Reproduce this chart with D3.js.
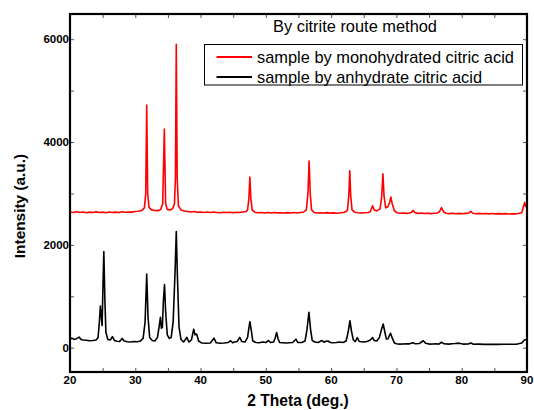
<!DOCTYPE html>
<html>
<head>
<meta charset="utf-8">
<script src="https://cdn.jsdelivr.net/npm/d3@7"></script>
<style>
  body { margin: 0; background: #fff; }
  svg { font-family: "Liberation Sans", Arial, sans-serif; }
</style>
</head>
<body>
<div id="chart"></div>
<script>
(function (d3) {

    // 2 theta (deg.), intensity (a.u.)
    var monoPattern = [
        [20.0, 2640], [20.5, 2630], [21.0, 2645], [21.5, 2628], [22.0, 2640], [22.5, 2625],
        [23.0, 2636], [23.5, 2628], [24.0, 2642], [24.5, 2630], [25.0, 2636], [25.5, 2624],
        [26.0, 2640], [26.5, 2630], [27.0, 2636], [27.5, 2628], [28.0, 2645], [28.5, 2634],
        [29.0, 2640], [29.5, 2636], [30.0, 2650], [30.5, 2655], [31.0, 2670], [31.4, 2720],
        [31.6, 3000], [31.75, 4720], [31.9, 3000], [32.1, 2730], [32.5, 2680], [33.0, 2668],
        [33.5, 2665], [33.9, 2690], [34.2, 2800], [34.45, 4250], [34.65, 2800], [34.9, 2690],
        [35.3, 2680], [35.7, 2700], [36.0, 2800], [36.15, 3300], [36.28, 5900], [36.42, 3300],
        [36.6, 2760], [37.0, 2680], [37.5, 2660], [38.0, 2650], [38.5, 2640], [39.0, 2648],
        [39.5, 2635], [40.0, 2640], [40.5, 2630], [41.0, 2638], [41.5, 2628], [42.0, 2640],
        [42.5, 2630], [43.0, 2625], [43.5, 2635], [44.0, 2628], [44.5, 2632], [45.0, 2625],
        [45.5, 2635], [46.0, 2630], [46.5, 2640], [47.0, 2650], [47.2, 2680], [47.4, 2900],
        [47.55, 3320], [47.7, 2900], [47.9, 2680], [48.3, 2635], [48.8, 2625], [49.3, 2630],
        [49.8, 2620], [50.3, 2628], [50.8, 2620], [51.3, 2630], [51.8, 2622], [52.3, 2625],
        [52.8, 2618], [53.3, 2626], [53.8, 2620], [54.3, 2628], [54.8, 2620], [55.3, 2630],
        [55.8, 2640], [56.2, 2680], [56.45, 3000], [56.62, 3630], [56.8, 3000], [57.0, 2680],
        [57.4, 2630], [57.9, 2620], [58.4, 2625], [58.9, 2618], [59.4, 2626], [59.9, 2618],
        [60.4, 2622], [60.9, 2616], [61.4, 2624], [61.9, 2630], [62.3, 2650], [62.5, 2680],
        [62.7, 2950], [62.85, 3440], [63.0, 2950], [63.2, 2680], [63.6, 2635], [64.1, 2625],
        [64.6, 2620], [65.1, 2625], [65.6, 2630], [66.0, 2645], [66.35, 2760], [66.6, 2680],
        [67.0, 2660], [67.5, 2700], [67.75, 2950], [67.93, 3380], [68.1, 2950], [68.35, 2720],
        [68.7, 2740], [68.95, 2820], [69.15, 2930], [69.35, 2800], [69.7, 2660], [70.1, 2625],
        [70.6, 2615], [71.1, 2620], [71.6, 2612], [72.0, 2620], [72.3, 2632], [72.57, 2670],
        [72.8, 2628], [73.3, 2612], [73.8, 2618], [74.3, 2610], [74.8, 2616], [75.3, 2608],
        [75.8, 2615], [76.3, 2620], [76.6, 2645], [76.9, 2725], [77.2, 2645], [77.6, 2615],
        [78.1, 2608], [78.6, 2615], [79.1, 2606], [79.6, 2612], [80.1, 2605], [80.6, 2612],
        [81.1, 2620], [81.4, 2652], [81.7, 2615], [82.2, 2606], [82.7, 2612], [83.2, 2604],
        [83.7, 2610], [84.2, 2603], [84.7, 2610], [85.2, 2602], [85.7, 2608], [86.2, 2602],
        [86.7, 2608], [87.2, 2600], [87.7, 2606], [88.2, 2602], [88.7, 2610], [89.2, 2625],
        [89.45, 2740], [89.65, 2825], [89.8, 2750], [90.0, 2720]
    ];

    var anhydPattern = [
        [20.0, 170], [20.3, 185], [20.6, 160], [21.0, 175], [21.4, 205], [21.7, 160],
        [22.0, 150], [22.5, 145], [23.0, 135], [23.5, 140], [24.0, 150], [24.3, 200],
        [24.5, 500], [24.65, 810], [24.8, 600], [24.92, 430], [25.05, 1200], [25.18, 1870],
        [25.35, 900], [25.5, 300], [25.8, 160], [26.2, 150], [26.5, 215], [26.8, 140],
        [27.2, 125], [27.6, 120], [28.0, 180], [28.3, 130], [28.8, 115], [29.3, 110],
        [29.8, 120], [30.3, 115], [30.8, 130], [31.2, 180], [31.5, 500], [31.75, 1430],
        [31.95, 600], [32.2, 200], [32.6, 140], [33.0, 130], [33.4, 200], [33.7, 450],
        [33.85, 590], [34.0, 380], [34.15, 400], [34.3, 900], [34.48, 1230], [34.65, 700],
        [34.9, 250], [35.2, 180], [35.5, 200], [35.8, 500], [36.1, 1500], [36.28, 2260],
        [36.45, 1400], [36.7, 400], [37.0, 160], [37.4, 110], [37.9, 200], [38.2, 110],
        [38.6, 150], [38.95, 360], [39.15, 250], [39.4, 265], [39.7, 130], [40.2, 90],
        [40.8, 85], [41.5, 90], [42.05, 185], [42.4, 95], [43.0, 85], [43.6, 90],
        [44.2, 100], [44.6, 135], [44.9, 95], [45.2, 110], [45.6, 120], [46.0, 200],
        [46.3, 120], [46.8, 110], [47.2, 200], [47.4, 380], [47.56, 505], [47.75, 350],
        [48.0, 130], [48.5, 100], [49.0, 95], [49.5, 110], [50.0, 100], [50.4, 140],
        [50.7, 100], [51.2, 110], [51.45, 200], [51.65, 295], [51.85, 180], [52.1, 100],
        [52.6, 95], [53.1, 90], [53.6, 95], [54.1, 100], [54.6, 165], [54.9, 100],
        [55.5, 100], [56.0, 130], [56.3, 350], [56.6, 690], [56.85, 350], [57.1, 140],
        [57.5, 110], [58.0, 100], [58.3, 120], [58.6, 140], [58.9, 105], [59.2, 125],
        [59.5, 130], [59.9, 100], [60.3, 95], [60.8, 100], [61.3, 110], [61.8, 100],
        [62.3, 130], [62.6, 300], [62.88, 525], [63.1, 330], [63.4, 150], [63.7, 120],
        [64.0, 195], [64.3, 120], [64.7, 115], [65.0, 110], [65.5, 120], [66.0, 150],
        [66.35, 195], [66.6, 140], [67.0, 130], [67.4, 200], [67.7, 350], [67.97, 460],
        [68.2, 320], [68.45, 170], [68.7, 170], [68.9, 230], [69.1, 280], [69.35, 190],
        [69.7, 90], [70.0, 75], [70.5, 70], [71.0, 72], [71.5, 75], [72.0, 75],
        [72.5, 97], [72.9, 75], [73.5, 80], [74.1, 135], [74.5, 85], [75.0, 70],
        [75.5, 72], [76.0, 75], [76.5, 70], [76.9, 105], [77.3, 75], [78.0, 70],
        [78.5, 75], [79.0, 80], [79.6, 88], [80.2, 70], [81.0, 72], [81.4, 90],
        [81.8, 68], [82.5, 70], [83.5, 65], [84.5, 68], [85.5, 65], [86.5, 68],
        [87.5, 66], [88.5, 70], [89.2, 90], [89.6, 150], [90.0, 160]
    ];

    var seriesNames = ['sample by monohydrated citric acid', 'sample by anhydrate citric acid'];
    var seriesColors = ['#ff0000', '#000000'];
    var chartTitle = 'By citrite route method';

    var xTicks = [20, 30, 40, 50, 60, 70, 80, 90];
    var xMinor = [25, 35, 45, 55, 65, 75, 85];
    var yTicks = [0, 2000, 4000, 6000];
    var yMinor = [1000, 3000, 5000];

    var W = 534, H = 410;
    var margin = { left: 70, top: 14, right: 7, bottom: 38 };
    var width = W - margin.left - margin.right,
        height = H - margin.top - margin.bottom;

    var xScale = d3.scaleLinear().domain([20, 90]).range([0, width]);
    var yScale = d3.scaleLinear().domain([-473, 6490]).range([height, 0]);

    var svg = d3.select('#chart')
        .append('svg')
        .attr('width', W)
        .attr('height', H);

    var g = svg.append('g')
        .attr('transform', 'translate(' + margin.left + ',' + margin.top + ')');

    g.append('clipPath')
        .attr('id', 'plot-clip')
        .append('rect')
        .attr('width', width)
        .attr('height', height);

    // inward ticks on all four sides
    function tickAxis(axis, values, size) {
        return axis.tickValues(values).tickSizeInner(-size).tickSizeOuter(0).tickFormat('');
    }

    var bottom = g.append('g').attr('transform', 'translate(0,' + height + ')');
    bottom.call(tickAxis(d3.axisBottom(xScale), xTicks.concat(xMinor), 4));
    var top = g.append('g');
    top.call(tickAxis(d3.axisTop(xScale), xTicks.concat(xMinor), 4));
    var left = g.append('g');
    left.call(tickAxis(d3.axisLeft(yScale), yTicks.concat(yMinor), 4));
    var right = g.append('g').attr('transform', 'translate(' + width + ',0)');
    right.call(tickAxis(d3.axisRight(yScale), yTicks.concat(yMinor), 4));

    g.selectAll('.domain').remove();
    g.selectAll('.tick line').attr('stroke', '#555').attr('stroke-width', 1);

    // tick labels
    g.selectAll('.xlab')
        .data(xTicks)
        .enter().append('text')
        .attr('x', function (d) { return xScale(d); })
        .attr('y', height + 12)
        .attr('text-anchor', 'middle')
        .attr('font-size', 11.5)
        .attr('font-weight', 'bold')
        .text(function (d) { return d; });

    g.selectAll('.ylab')
        .data(yTicks)
        .enter().append('text')
        .attr('x', -1)
        .attr('y', function (d) { return yScale(d) + 4; })
        .attr('text-anchor', 'end')
        .attr('font-size', 11.5)
        .attr('font-weight', 'bold')
        .text(function (d) { return d; });

    var line = d3.line()
        .x(function (d) { return xScale(d[0]); })
        .y(function (d) { return yScale(d[1]); });

    var curves = g.append('g').attr('clip-path', 'url(#plot-clip)');
    [monoPattern, anhydPattern].forEach(function (data, i) {
        curves.append('path')
            .attr('d', line(data))
            .attr('fill', 'none')
            .attr('stroke', seriesColors[i])
            .attr('stroke-width', 1.6)
            .attr('stroke-linejoin', 'round');
    });

    // frame
    g.append('rect')
        .attr('width', width)
        .attr('height', height)
        .attr('fill', 'none')
        .attr('stroke', '#000')
        .attr('stroke-width', 2.2);

    // title inside the plot
    svg.append('text')
        .attr('x', 273)
        .attr('y', 32)
        .attr('font-size', 16.4)
        .text(chartTitle);

    // legend
    var legend = svg.append('g');
    legend.append('rect')
        .attr('x', 204.5)
        .attr('y', 44.5)
        .attr('width', 318)
        .attr('height', 40.5)
        .attr('fill', '#fff')
        .attr('stroke', '#000')
        .attr('stroke-width', 1);

    seriesNames.forEach(function (name, i) {
        var y = 57 + i * 20;
        legend.append('line')
            .attr('x1', 216.5)
            .attr('x2', 252)
            .attr('y1', y)
            .attr('y2', y)
            .attr('stroke', seriesColors[i])
            .attr('stroke-width', 1.8);
        legend.append('text')
            .attr('x', 257)
            .attr('y', y + 6)
            .attr('font-size', 16.4)
            .text(name);
    });

    // axis titles
    svg.append('text')
        .attr('x', 298)
        .attr('y', 406)
        .attr('text-anchor', 'middle')
        .attr('font-size', 15.6)
        .attr('font-weight', 'bold')
        .text('2 Theta (deg.)');

    svg.append('text')
        .attr('transform', 'translate(25,206) rotate(-90)')
        .attr('text-anchor', 'middle')
        .attr('font-size', 15.4)
        .attr('font-weight', 'bold')
        .text('Intensity (a.u.)');

})(d3);
</script>
</body>
</html>
